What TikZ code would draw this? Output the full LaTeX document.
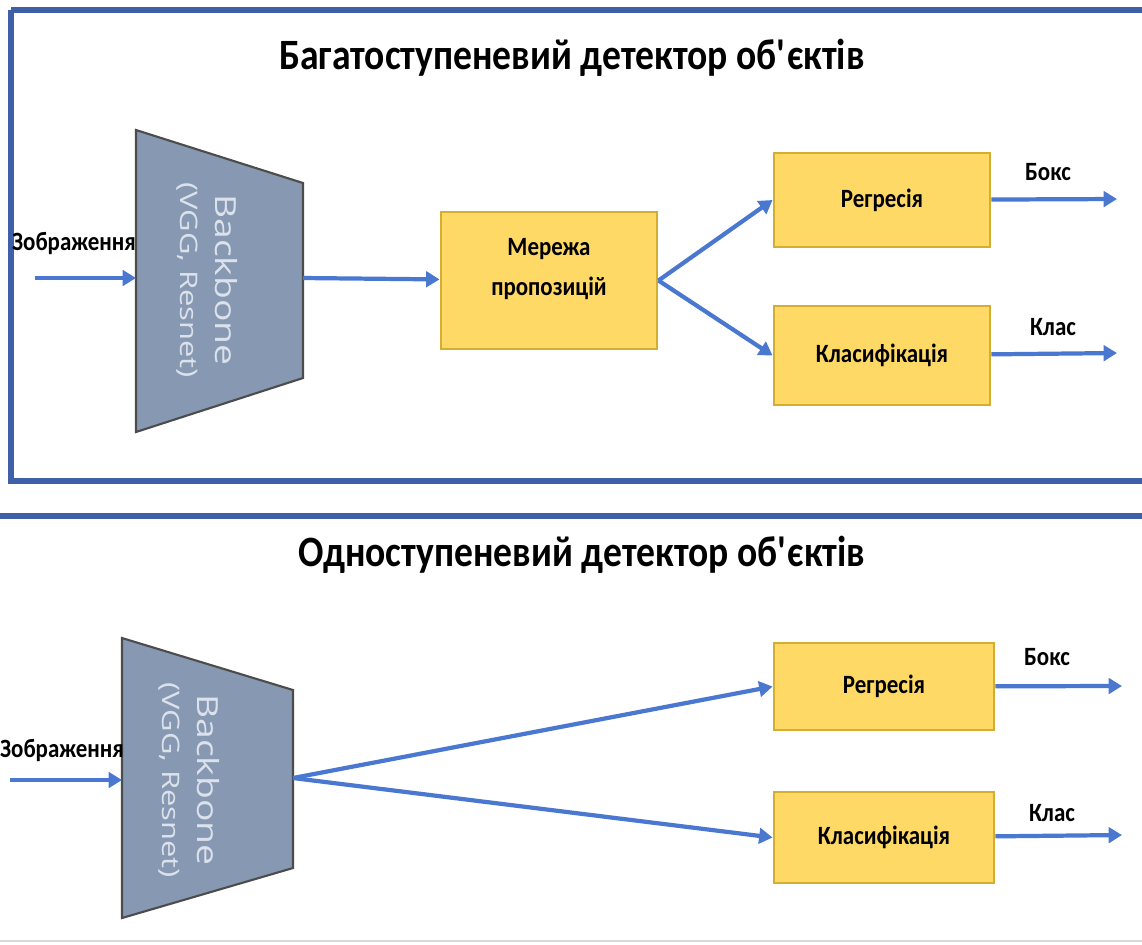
\documentclass[tikz,border=0pt]{standalone}
\usepackage{fontspec}
\setmainfont{Carlito}[FakeStretch=0.87]
\newfontfamily\bbfont{Open Sans}
\usetikzlibrary{arrows.meta}
\definecolor{frameblue}{HTML}{3F5FA8}
\definecolor{arrowblue}{HTML}{4A78D0}
\definecolor{boxfill}{HTML}{FFD966}
\definecolor{boxdraw}{HTML}{D4AE30}
\definecolor{bbfill}{HTML}{8798B2}
\definecolor{bbtext}{HTML}{DCE2EC}
\tikzstyle{stage} = [rectangle, draw=boxdraw, line width=0.8pt, fill=boxfill, minimum width=2.16cm, text centered, font=\bfseries\fontsize{7.5}{11.4}\selectfont, align=center]
\tikzstyle{title} = [font=\bfseries\fontsize{12.3}{14}\selectfont]
\tikzstyle{lbl} = [font=\bfseries\fontsize{7.5}{9}\selectfont]
\tikzstyle{bbshape} = [draw=black!70, fill=bbfill, line width=0.6pt]
\tikzstyle{bbtxt} = [text=bbtext, font=\bbfont\fontsize{8.8}{12.8}\selectfont, rotate=-90, yscale=0.78, align=center]
\tikzstyle{arrow} = [draw=arrowblue, line width=1.2pt, -{Triangle[length=3.8pt,width=4.4pt]}]
\newcommand{\apos}{\textquotesingle}
\newcommand{\bbname}{{\fontsize{10.6}{12.8}\selectfont Backbone}}

\begin{document}
\begin{tikzpicture}[x=0.01cm, y=-0.01cm]
    \useasboundingbox (0,0) rectangle (1142,944);
    % frames
    \draw[frameblue, line width=1.6pt] (11,10) -- (1160,10) (11,10) -- (11,481) -- (1160,481);
    \draw[frameblue, line width=1.6pt] (0,516) -- (1142,516);
    \draw[black!15, line width=0.8pt] (0,941) -- (1142,941);

    % two-stage
    \node (t1)[title] at (572,58) {Багатоступеневий детектор об\apos єктів};
    \draw[bbshape] (136,130) -- (303,183) -- (303,378) -- (136,432) -- cycle;
    \coordinate (bb1in) at (136,278);
    \coordinate (bb1out) at (303,278);
    \node (bb1)[bbtxt] at (207,280) {\bbname\\(VGG, Resnet)};
    \coordinate (img1) at (35,278);
    \node (l1)[lbl] at (74,243) {Зображення};
    \node (mer)[stage, minimum height=1.37cm] at (549,280.5) {\raisebox{3.6pt}[\height][\depth]{\begin{tabular}{@{}c@{}}Мережа\\пропозицій\end{tabular}}};
    \node (reg1)[stage, minimum height=0.94cm] at (882,200) {Регресія};
    \node (cls1)[stage, minimum height=0.99cm] at (882,355.5) {Класифікація};
    \coordinate (box1) at (1117,199);
    \coordinate (cl1) at (1117,353);
    \node (lb1)[lbl] at (1048,172) {Бокс};
    \node (lc1)[lbl] at (1053,327) {Клас};
    \draw[arrow] (img1) -- (bb1in);
    \draw[arrow] (bb1out) -- (mer);
    \draw[arrow] (mer.east) -- (reg1.west);
    \draw[arrow] (mer.east) -- (cls1.west);
    \draw[arrow] (reg1) -- (box1);
    \draw[arrow] (cls1) -- (cl1);

    % one-stage
    \node (t2)[title] at (582,555) {Одноступеневий детектор об\apos єктів};
    \draw[bbshape] (122,638) -- (293,690) -- (293,868) -- (122,918) -- cycle;
    \coordinate (bb2in) at (122,780);
    \coordinate (bb2out) at (293,778);
    \node (bb2)[bbtxt] at (189,780) {\bbname\\(VGG, Resnet)};
    \coordinate (img2) at (10,780);
    \node (l2)[lbl] at (62,750) {Зображення};
    \node (reg2)[stage, minimum width=2.2cm, minimum height=0.87cm] at (884,686.5) {Регресія};
    \node (cls2)[stage, minimum width=2.2cm, minimum height=0.91cm] at (884,837.5) {Класифікація};
    \coordinate (box2) at (1122,686);
    \coordinate (cl2) at (1122,835);
    \node (lb2)[lbl] at (1047,657) {Бокс};
    \node (lc2)[lbl] at (1052,813) {Клас};
    \draw[arrow] (img2) -- (bb2in);
    \draw[arrow] (bb2out) -- (reg2.west);
    \draw[arrow] (bb2out) -- (cls2.west);
    \draw[arrow] (reg2) -- (box2);
    \draw[arrow] (cls2) -- (cl2);
\end{tikzpicture}
\end{document}
